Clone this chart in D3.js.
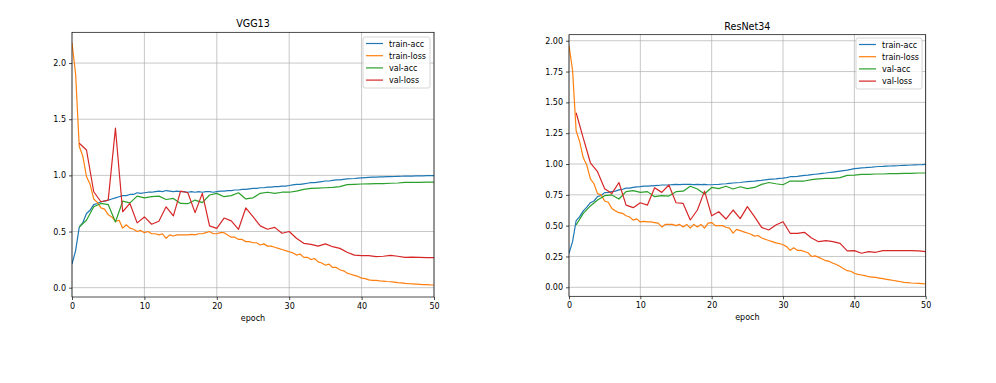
<!DOCTYPE html>
<html>
<head>
<meta charset="utf-8">
<script src="https://cdn.jsdelivr.net/npm/d3@7"></script>
<style>
  body { margin: 0; background: #fff; }
  text { font-family: "DejaVu Sans", sans-serif; fill: #000; }
</style>
</head>
<body>
<div id="chart"></div>
<script>
// Set up conventions
let width = 996;
let height = 383;

// x values: train logged twice per epoch, val once per epoch
let trainEpochs = d3.range(101).map(i => i / 2);
let valEpochs = d3.range(1, 51);

let seriesNames = ["train-acc", "train-loss", "val-acc", "val-loss"];
let colors = ["#1f77b4", "#ff7f0e", "#2ca02c", "#d62728"];

// VGG13
let vggTrainAcc = [0.21, 0.33, 0.54, 0.58, 0.66, 0.69, 0.74, 0.75, 0.765, 0.77,
  0.78, 0.79, 0.80, 0.81, 0.82, 0.82, 0.83, 0.83, 0.845, 0.84,
  0.845, 0.85, 0.85, 0.855, 0.86, 0.855, 0.865, 0.86, 0.855, 0.86,
  0.855, 0.855, 0.85, 0.855, 0.85, 0.855, 0.85, 0.855, 0.855, 0.85,
  0.855, 0.86, 0.86, 0.865, 0.865, 0.87, 0.87, 0.875, 0.875, 0.88,
  0.885, 0.885, 0.89, 0.89, 0.895, 0.895, 0.90, 0.90, 0.905, 0.905,
  0.91, 0.915, 0.92, 0.92, 0.925, 0.93, 0.935, 0.935, 0.94, 0.945,
  0.95, 0.95, 0.955, 0.96, 0.96, 0.965, 0.968, 0.97, 0.972, 0.975,
  0.978, 0.98, 0.982, 0.984, 0.985, 0.986, 0.987, 0.988, 0.989, 0.99,
  0.991, 0.992, 0.993, 0.994, 0.994, 0.995, 0.996, 0.996, 0.997, 0.997, 0.998];
let vggTrainLoss = [2.18, 1.90, 1.26, 1.17, 0.99, 0.92, 0.79, 0.76, 0.71, 0.70,
  0.65, 0.63, 0.59, 0.60, 0.53, 0.56, 0.53, 0.52, 0.50, 0.51,
  0.49, 0.50, 0.48, 0.48, 0.47, 0.48, 0.44, 0.47, 0.46, 0.47,
  0.47, 0.47, 0.47, 0.475, 0.47, 0.48, 0.48, 0.49, 0.50, 0.48,
  0.48, 0.49, 0.49, 0.47, 0.45, 0.45, 0.43, 0.43, 0.41, 0.41,
  0.40, 0.40, 0.38, 0.39, 0.37, 0.37, 0.36, 0.35, 0.34, 0.33,
  0.32, 0.31, 0.29, 0.30, 0.27, 0.27, 0.25, 0.26, 0.23, 0.22,
  0.20, 0.21, 0.18, 0.18, 0.16, 0.15, 0.13, 0.12, 0.11, 0.10,
  0.085, 0.08, 0.07, 0.065, 0.065, 0.06, 0.058, 0.055, 0.053, 0.05,
  0.045, 0.043, 0.039, 0.036, 0.034, 0.032, 0.03, 0.028, 0.027, 0.025, 0.024];
let vggValAcc = [0.54, 0.60, 0.72, 0.75, 0.74, 0.585, 0.77, 0.755, 0.815, 0.80,
  0.81, 0.815, 0.785, 0.795, 0.75, 0.748, 0.78, 0.757, 0.825, 0.84,
  0.81, 0.82, 0.845, 0.79, 0.80, 0.84, 0.85, 0.84, 0.85, 0.85,
  0.86, 0.875, 0.885, 0.887, 0.89, 0.893, 0.90, 0.917, 0.92, 0.923,
  0.925, 0.927, 0.927, 0.93, 0.932, 0.938, 0.938, 0.938, 0.94, 0.94];
let vggValLoss = [1.286, 1.226, 0.854, 0.765, 0.78, 1.42, 0.676, 0.75, 0.577, 0.63,
  0.565, 0.592, 0.72, 0.64, 0.86, 0.845, 0.668, 0.84, 0.55, 0.528,
  0.62, 0.595, 0.52, 0.71, 0.632, 0.55, 0.52, 0.537, 0.485, 0.5,
  0.44, 0.395, 0.386, 0.37, 0.39, 0.365, 0.35, 0.315, 0.29, 0.285,
  0.285, 0.276, 0.28, 0.288, 0.28, 0.27, 0.272, 0.27, 0.268, 0.267];

// ResNet34
let resTrainAcc = [0.275, 0.37, 0.54, 0.573, 0.62, 0.65, 0.686, 0.70, 0.735, 0.745,
  0.768, 0.77, 0.776, 0.78, 0.79, 0.795, 0.805, 0.805, 0.81, 0.815,
  0.816, 0.82, 0.82, 0.822, 0.824, 0.826, 0.83, 0.83, 0.83, 0.833,
  0.835, 0.833, 0.835, 0.835, 0.835, 0.833, 0.835, 0.833, 0.835, 0.832,
  0.832, 0.834, 0.835, 0.838, 0.84, 0.843, 0.846, 0.848, 0.85, 0.854,
  0.857, 0.86, 0.862, 0.865, 0.868, 0.872, 0.876, 0.878, 0.88, 0.883,
  0.886, 0.89, 0.897, 0.898, 0.90, 0.904, 0.908, 0.91, 0.914, 0.917,
  0.92, 0.924, 0.927, 0.931, 0.935, 0.939, 0.943, 0.947, 0.951, 0.956,
  0.962, 0.965, 0.968, 0.97, 0.973, 0.975, 0.978, 0.98, 0.981, 0.983,
  0.984, 0.985, 0.986, 0.988, 0.989, 0.99, 0.992, 0.993, 0.994, 0.995, 0.997];
let resTrainLoss = [1.96, 1.76, 1.27, 1.18, 1.05, 0.99, 0.88, 0.84, 0.76, 0.75,
  0.70, 0.69, 0.64, 0.62, 0.605, 0.60, 0.58, 0.57, 0.545, 0.555,
  0.53, 0.535, 0.53, 0.53, 0.525, 0.52, 0.49, 0.51, 0.51, 0.51,
  0.50, 0.51, 0.49, 0.51, 0.48, 0.51, 0.49, 0.51, 0.48, 0.52,
  0.525, 0.50, 0.50, 0.50, 0.487, 0.48, 0.44, 0.47, 0.46, 0.45,
  0.44, 0.43, 0.415, 0.42, 0.40, 0.39, 0.38, 0.37, 0.36, 0.355,
  0.345, 0.33, 0.30, 0.32, 0.30, 0.30, 0.29, 0.28, 0.25, 0.255,
  0.243, 0.23, 0.216, 0.21, 0.195, 0.185, 0.168, 0.15, 0.135, 0.13,
  0.114, 0.105, 0.10, 0.095, 0.086, 0.083, 0.08, 0.075, 0.07, 0.065,
  0.06, 0.055, 0.05, 0.045, 0.04, 0.038, 0.035, 0.033, 0.032, 0.03, 0.027];
let resValAcc = [0.505, 0.60, 0.66, 0.708, 0.743, 0.749, 0.716, 0.776, 0.784, 0.77,
  0.776, 0.735, 0.743, 0.74, 0.776, 0.78, 0.82, 0.797, 0.757, 0.81,
  0.80, 0.82, 0.797, 0.816, 0.80, 0.81, 0.835, 0.85, 0.84, 0.832,
  0.862, 0.862, 0.862, 0.873, 0.88, 0.884, 0.884, 0.89, 0.908, 0.91,
  0.916, 0.916, 0.919, 0.919, 0.922, 0.922, 0.924, 0.924, 0.927, 0.927];
let resValLoss = [1.416, 1.21, 1.01, 0.938, 0.80, 0.76, 0.85, 0.667, 0.646, 0.686,
  0.667, 0.808, 0.77, 0.83, 0.686, 0.68, 0.546, 0.627, 0.78, 0.58,
  0.613, 0.554, 0.627, 0.557, 0.654, 0.573, 0.486, 0.465, 0.505, 0.532,
  0.438, 0.438, 0.446, 0.40, 0.37, 0.378, 0.37, 0.357, 0.295, 0.297,
  0.276, 0.29, 0.284, 0.297, 0.297, 0.297, 0.297, 0.297, 0.295, 0.29];

let xTicks = [0, 10, 20, 30, 40, 50];
let vggYTicks = [0.0, 0.5, 1.0, 1.5, 2.0];
let resYTicks = [0.00, 0.25, 0.50, 0.75, 1.00, 1.25, 1.50, 1.75, 2.00];

let fontSmall = 8;
let fontTitle = 9.6;

let svg = d3.select("#chart")
    .append("svg")
    .attr("width", width)
    .attr("height", height)

svg.append("rect").attr("width", width).attr("height", height).attr("fill", "#fff")

function drawPanel(opts) {
    let xScale = d3.scaleLinear()
        .domain([0, 50])
        .range([opts.left, opts.right])

    let yScale = d3.scaleLinear()
        .domain(opts.yDomain)
        .range([opts.bottom, opts.top])

    let g = svg.append("g")

    // Grid
    g.selectAll(".vgrid")
        .data(xTicks)
        .enter()
        .append("line")
        .attr("x1", d => xScale(d)).attr("x2", d => xScale(d))
        .attr("y1", opts.top).attr("y2", opts.bottom)
        .attr("stroke", "#b0b0b0").attr("stroke-width", 0.7)

    g.selectAll(".hgrid")
        .data(opts.yTicks)
        .enter()
        .append("line")
        .attr("x1", opts.left).attr("x2", opts.right)
        .attr("y1", d => yScale(d)).attr("y2", d => yScale(d))
        .attr("stroke", "#b0b0b0").attr("stroke-width", 0.7)

    // Lines
    let trainLine = d3.line()
        .x((d, i) => xScale(trainEpochs[i]))
        .y(d => yScale(d))
    let valLine = d3.line()
        .x((d, i) => xScale(valEpochs[i]))
        .y(d => yScale(d))

    let clipId = "clip-" + opts.name
    svg.append("clipPath").attr("id", clipId)
        .append("rect")
        .attr("x", opts.left).attr("y", opts.top)
        .attr("width", opts.right - opts.left)
        .attr("height", opts.bottom - opts.top)

    let lines = g.append("g").attr("clip-path", "url(#" + clipId + ")")
    let paths = [
        trainLine(opts.trainAcc),
        trainLine(opts.trainLoss),
        valLine(opts.valAcc),
        valLine(opts.valLoss)
    ]
    paths.forEach((p, i) => {
        lines.append("path")
            .attr("d", p)
            .attr("fill", "none")
            .attr("stroke", colors[i])
            .attr("stroke-width", 1.2)
            .attr("stroke-linejoin", "round")
    })

    // Axes
    let xAxis = d3.axisBottom(xScale).tickValues(xTicks).tickSize(3).tickPadding(3).tickFormat(d3.format("d"))
    let yAxis = d3.axisLeft(yScale).tickValues(opts.yTicks).tickSize(3).tickPadding(3).tickFormat(d3.format(opts.yFormat))

    let xg = g.append("g")
        .attr("transform", "translate(0," + opts.bottom + ")")
        .call(xAxis)
    let yg = g.append("g")
        .attr("transform", "translate(" + opts.left + ",0)")
        .call(yAxis)
    ;[xg, yg].forEach(a => {
        a.select(".domain").remove()
        a.selectAll("line").attr("stroke", "#000").attr("stroke-width", 0.7)
        a.selectAll("text").attr("font-size", fontSmall).attr("font-family", "DejaVu Sans").attr("fill", "#000")
    })

    // Frame
    g.append("rect")
        .attr("x", opts.left).attr("y", opts.top)
        .attr("width", opts.right - opts.left)
        .attr("height", opts.bottom - opts.top)
        .attr("fill", "none")
        .attr("stroke", "#000")
        .attr("stroke-width", 0.7)

    // Title and label
    g.append("text")
        .attr("x", (opts.left + opts.right) / 2)
        .attr("y", opts.top - 5)
        .attr("text-anchor", "middle")
        .attr("font-size", fontTitle)
        .text(opts.name)

    g.append("text")
        .attr("x", (opts.left + opts.right) / 2)
        .attr("y", opts.bottom + 23.5)
        .attr("text-anchor", "middle")
        .attr("font-size", fontSmall)
        .text("epoch")

    // Legend
    let lg = g.append("g").attr("transform", "translate(" + opts.legendX + "," + opts.legendY + ")")
    lg.append("rect")
        .attr("width", opts.legendW).attr("height", 51)
        .attr("rx", 2)
        .attr("fill", "#fff").attr("fill-opacity", 0.8)
        .attr("stroke", "#cccccc").attr("stroke-width", 0.8)
    seriesNames.forEach((name, i) => {
        let yy = 6.5 + i * 12.2
        lg.append("line")
            .attr("x1", 3).attr("x2", 20)
            .attr("y1", yy).attr("y2", yy)
            .attr("stroke", colors[i]).attr("stroke-width", 1.2)
        lg.append("text")
            .attr("x", 26).attr("y", yy + 3)
            .attr("font-size", fontSmall)
            .text(name)
    })
}

drawPanel({
    name: "VGG13",
    left: 72, right: 434, top: 32.3, bottom: 297,
    yDomain: [-0.083, 2.274],
    yTicks: vggYTicks, yFormat: ".1f",
    trainAcc: vggTrainAcc, trainLoss: vggTrainLoss,
    valAcc: vggValAcc, valLoss: vggValLoss,
    legendX: 363, legendY: 37, legendW: 67
})

drawPanel({
    name: "ResNet34",
    left: 569, right: 925.7, top: 34.7, bottom: 296.3,
    yDomain: [-0.073, 2.049],
    yTicks: resYTicks, yFormat: ".2f",
    trainAcc: resTrainAcc, trainLoss: resTrainLoss,
    valAcc: resValAcc, valLoss: resValLoss,
    legendX: 856, legendY: 38, legendW: 66
})
</script>
</body>
</html>
